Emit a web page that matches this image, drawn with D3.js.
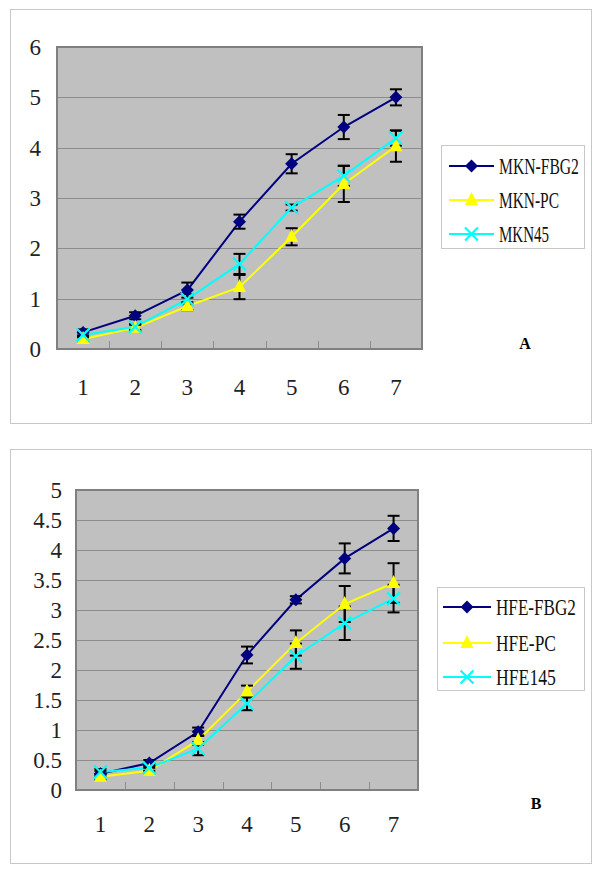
<!DOCTYPE html>
<html><head><meta charset="utf-8">
<script src="https://cdn.jsdelivr.net/npm/d3@7"></script>
<style>body{margin:0;background:#fff}svg{display:block}</style>
</head><body>
<svg id="c" width="600" height="875"></svg>
<script>
const categories = ["1","2","3","4","5","6","7"];

const namesA = ["MKN-FBG2","MKN-PC","MKN45"];
const fbg2A = [0.33,0.66,1.17,2.53,3.68,4.41,5.00];
const pcA   = [0.20,0.42,0.85,1.23,2.23,3.28,4.03];
const m45A  = [0.28,0.44,0.99,1.69,2.81,3.44,4.19];
const fbg2AErr = [0.06,0.07,0.15,0.14,0.19,0.24,0.16];
const pcAErr   = [0.05,0.06,0.08,0.24,0.17,0.36,0.31];
const m45AErr  = [0.05,0.06,0.10,0.20,0.06,0.20,0.15];
const ticksA = [0,1,2,3,4,5,6];

const namesB = ["HFE-FBG2","HFE-PC","HFE145"];
const fbg2B = [0.27,0.45,0.97,2.25,3.17,3.86,4.36];
const pcB   = [0.22,0.32,0.83,1.64,2.45,3.10,3.45];
const h145B = [0.30,0.37,0.69,1.44,2.23,2.78,3.19];
const fbg2BErr = [0.05,0.05,0.07,0.14,0.06,0.25,0.21];
const pcBErr   = [0.05,0.05,0.08,0.10,0.21,0.30,0.33];
const h145BErr = [0.05,0.05,0.11,0.11,0.21,0.28,0.23];
const ticksB = [0,0.5,1,1.5,2,2.5,3,3.5,4,4.5,5];

const colors = ["#000080","#ffff00","#00ffff"];
const shapes = ["diamond","triangle","x"];

const svg = d3.select("#c");
const FONT = "'Liberation Serif','DejaVu Serif',serif";

function marker(g, shape, color, x, y) {
  if (shape === "diamond") {
    const r = 6.5;
    g.append("path").attr("d", `M0,${-r}L${r},0L0,${r}L${-r},0Z`).attr("transform",`translate(${x},${y})`).attr("fill",color);
  } else if (shape === "triangle") {
    g.append("path").attr("d", "M0,-8L6.5,5L-6.5,5Z").attr("transform",`translate(${x},${y})`).attr("fill",color);
  } else {
    g.append("path").attr("d", d3.symbol(d3.symbolX, 110)()).attr("transform",`translate(${x},${y})`)
      .attr("fill","none").attr("stroke",color).attr("stroke-width",2.2);
  }
}

function condensed(sel, width) {
  sel.each(function(){
    const w = this.getComputedTextLength();
    const x = +this.getAttribute("x"), y = +this.getAttribute("y");
    const s = width / w;
    this.setAttribute("transform", `translate(${x},${y}) scale(${s},1) translate(${-x},${-y})`);
  });
}

function panel(cfg) {
  const g = svg.append("g");
  g.append("rect").attr("x",cfg.frame[0]+0.5).attr("y",cfg.frame[1]+0.5)
    .attr("width",cfg.frame[2]-cfg.frame[0]).attr("height",cfg.frame[3]-cfg.frame[1])
    .attr("fill","#fff").attr("stroke","#c8c8c8").attr("stroke-width",1);

  const x = d3.scaleBand().domain(categories).range([cfg.plot[0],cfg.plot[2]]);
  const y = d3.scaleLinear().domain([0,cfg.ymax]).range([cfg.plot[3],cfg.plot[1]]);

  g.append("rect").attr("x",cfg.plot[0]).attr("y",cfg.plot[1])
    .attr("width",cfg.plot[2]-cfg.plot[0]).attr("height",cfg.plot[3]-cfg.plot[1])
    .attr("fill","#c0c0c0");
  g.selectAll(null).data(cfg.ticks.filter(t=>t>0 && t<cfg.ymax)).join("line")
    .attr("x1",cfg.plot[0]).attr("x2",cfg.plot[2])
    .attr("y1",d=>Math.round(y(d))+0.5).attr("y2",d=>Math.round(y(d))+0.5)
    .attr("stroke","#8c8c8c").attr("stroke-width",1);
  g.selectAll(null).data(categories.slice(1)).join("line")
    .attr("x1",d=>Math.round(x(d))+0.5).attr("x2",d=>Math.round(x(d))+0.5)
    .attr("y1",cfg.plot[3]).attr("y2",cfg.plot[3]-8)
    .attr("stroke","#8c8c8c").attr("stroke-width",1);
  g.append("rect").attr("x",cfg.plot[0]).attr("y",cfg.plot[1])
    .attr("width",cfg.plot[2]-cfg.plot[0]).attr("height",cfg.plot[3]-cfg.plot[1])
    .attr("fill","none").attr("stroke","#808080").attr("stroke-width",2);

  g.selectAll(null).data(cfg.ticks).join("text")
    .attr("x",cfg.ylabX).attr("y",d=>y(d)).attr("dy","0.35em")
    .attr("text-anchor","end").attr("font-family",FONT).attr("font-size",23)
    .attr("fill","#222").text(d=>String(d));
  g.selectAll(null).data(categories).join("text")
    .attr("x",d=>x(d)+x.bandwidth()/2).attr("y",cfg.xlabY).attr("dy","0.35em")
    .attr("text-anchor","middle").attr("font-family",FONT).attr("font-size",23)
    .attr("fill","#222").text(d=>d);

  const cx = d => x(d)+x.bandwidth()/2;
  const line = d3.line().x((d,i)=>cx(categories[i])).y(d=>y(d));
  cfg.series.forEach((s,k)=>{
    g.append("path").datum(s.v).attr("d",line).attr("fill","none")
      .attr("stroke",colors[k]).attr("stroke-width",2);
  });
  cfg.series.forEach((s,k)=>{
    s.v.forEach((v,i)=>{
      const xx = cx(categories[i]);
      const e = s.e[i];
      const gg = g.append("g").attr("stroke","#000").attr("stroke-width",2);
      gg.append("line").attr("x1",xx).attr("x2",xx).attr("y1",y(v-e)).attr("y2",y(v+e));
      [v-e,v+e].forEach(t=>gg.append("line").attr("x1",xx-6).attr("x2",xx+6).attr("y1",y(t)).attr("y2",y(t)));
    });
  });
  cfg.series.forEach((s,k)=>{
    s.v.forEach((v,i)=>marker(g, shapes[k], colors[k], cx(categories[i]), y(v)));
  });

  const L = cfg.legend;
  g.append("rect").attr("x",L.x+0.5).attr("y",L.y+0.5).attr("width",L.w).attr("height",L.h)
    .attr("fill","#fff").attr("stroke","#c8c8c8");
  cfg.names.forEach((n,k)=>{
    const ry = L.rows[k];
    g.append("line").attr("x1",L.lx1).attr("x2",L.lx2).attr("y1",ry).attr("y2",ry)
      .attr("stroke",colors[k]).attr("stroke-width",2);
    marker(g, shapes[k], colors[k], (L.lx1+L.lx2)/2, ry);
    g.append("text").attr("x",L.tx).attr("y",ry).attr("dy","0.36em")
      .attr("font-family",FONT).attr("font-size",23).attr("fill","#111")
      .text(n).call(condensed, n.length*10);
  });
  g.append("text").attr("x",cfg.tag[0]).attr("y",cfg.tag[1]).attr("dy","0.35em")
    .attr("text-anchor","middle").attr("font-family",FONT).attr("font-weight","bold")
    .attr("font-size",16).text(cfg.tag[2]);
}

panel({
  frame:[10,9,591,423], plot:[57,47,422,349], ymax:6, ticks:ticksA,
  ylabX:41, xlabY:387, names:namesA,
  series:[{v:fbg2A,e:fbg2AErr},{v:pcA,e:pcAErr},{v:m45A,e:m45AErr}],
  legend:{x:441,y:145,w:143,h:103,rows:[166,200,234],lx1:449,lx2:494,tx:499},
  tag:[525,343,"A"]
});
panel({
  frame:[10,449,591,863], plot:[76,490,418,790], ymax:5, ticks:ticksB,
  ylabX:62, xlabY:824, names:namesB,
  series:[{v:fbg2B,e:fbg2BErr},{v:pcB,e:pcBErr},{v:h145B,e:h145BErr}],
  legend:{x:437,y:587,w:147,h:103,rows:[607,643,677],lx1:443,lx2:491,tx:496},
  tag:[536,803,"B"]
});
</script>
</body></html>
